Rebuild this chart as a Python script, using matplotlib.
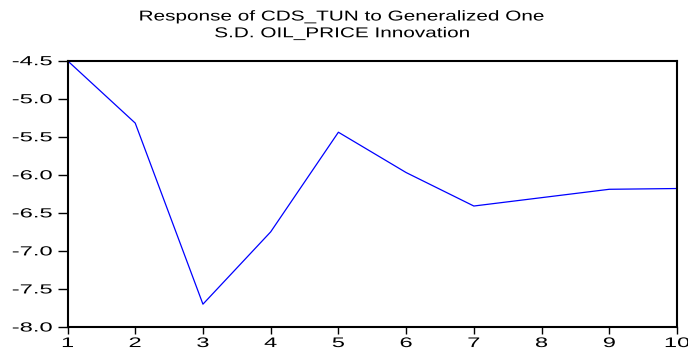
import matplotlib
matplotlib.use("Agg")
import matplotlib.pyplot as plt
from matplotlib.patheffects import AbstractPathEffect
from matplotlib.transforms import Affine2D

# impulse response of CDS_TUN to a one S.D. oil price shock
periods = [1, 2, 3, 4, 5, 6, 7, 8, 9, 10]
response = [-4.50, -5.32, -7.70, -6.75, -5.44, -5.97, -6.41, -6.30, -6.19, -6.18]
yticks = [-8.0, -7.5, -7.0, -6.5, -6.0, -5.5, -5.0, -4.5]
title = "Response of CDS_TUN to Generalized One\nS.D. OIL_PRICE Innovation"


class Widen(AbstractPathEffect):
    """Stretch glyphs horizontally about a fixed x position (pixels)."""

    def __init__(self, factor, anchor_x):
        super().__init__()
        self.factor = factor
        self.anchor_x = anchor_x

    def draw_path(self, renderer, gc, tpath, affine, rgbFace=None):
        stretch = (Affine2D().translate(-self.anchor_x, 0)
                   .scale(self.factor, 1.0).translate(self.anchor_x, 0))
        renderer.draw_path(gc, tpath, affine + stretch, rgbFace)


plt.rcParams['font.family'] = ['Liberation Sans', 'DejaVu Sans']

W, H = 688, 352
fig = plt.figure(figsize=(W / 100, H / 100), dpi=100)
ax = fig.add_axes([67.5 / W, (H - 327) / H, (677 - 67.5) / W, (327 - 60.7) / H])

ax.plot(periods, response, color='#0000ff', linewidth=0.9)

ax.set_xlim(1, 10)
ax.set_ylim(-8.0, -4.5)
ax.set_xticks(periods)
ax.set_yticks(yticks)
ax.set_yticklabels([f"{v:.1f}" for v in yticks])

for side in ax.spines.values():
    side.set_linewidth(1.5)
ax.tick_params(axis='y', direction='out', length=7, width=1.0,
               labelsize=9.5, pad=3.5, right=False)
ax.tick_params(axis='x', direction='out', length=5, width=1.0,
               labelsize=10, pad=1.5, top=False)

title_x = 0.497
head = fig.text(title_x, 1 - 9.5 / H, title, ha='center', va='top',
                fontsize=10.3, linespacing=1.25)
head.set_path_effects([Widen(1.45, title_x * W)])

# widen the tick labels around their own anchors
fig.canvas.draw()
for lab in ax.get_yticklabels():
    bb = lab.get_window_extent()
    lab.set_path_effects([Widen(1.8, bb.x1)])
for lab in ax.get_xticklabels():
    bb = lab.get_window_extent()
    lab.set_path_effects([Widen(1.7, 0.5 * (bb.x0 + bb.x1))])

fig.savefig("out.png", dpi=100)
